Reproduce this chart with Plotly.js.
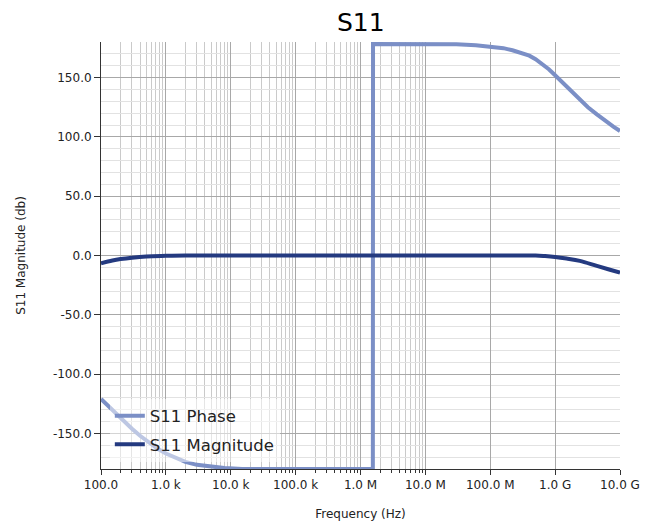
<!DOCTYPE html>
<html>
<head>
<meta charset="utf-8">
<script src="https://cdn.plot.ly/plotly-3.0.1.min.js"></script>
<style>html,body{margin:0;padding:0;background:#fff;}#chart{width:656px;height:524px;}</style>
</head>
<body>
<div id="chart"></div>
<script>
// ---- data ----
const phaseFreq = [100, 130, 170, 230, 300, 400, 550, 750, 1000, 1500, 2000, 3000, 5000, 8000, 15000, 100000, 1000000, 1550000,
  1560000, 10000000, 30000000, 60000000, 100000000, 160000000, 220000000, 300000000, 400000000, 500000000, 600000000, 800000000,
  1000000000, 1300000000, 1700000000, 2400000000, 3200000000, 4400000000, 6000000000, 8000000000, 10000000000];
const phaseVal = [-121, -127, -134, -141, -146, -152, -158, -163, -167, -171.5, -174, -176.5, -178.3, -179.2, -180, -180, -180, -180,
  178.3, 178.3, 178, 177.3, 176.3, 174.8, 173, 171, 168.5, 165.5, 162.5, 157,
  152, 146, 139.5, 131, 125, 119, 113, 108.5, 105];

const magFreq = [100, 150, 200, 300, 500, 1000, 2000, 10000, 1000000, 100000000, 500000000, 700000000,
  1000000000, 1500000000, 2400000000, 4400000000, 7000000000, 10000000000];
const magVal = [-6.5, -4.2, -3, -1.8, -0.8, -0.3, 0, 0, 0, 0, 0, -0.5,
  -1.3, -2.6, -4.5, -8.8, -12, -14.5];

const xTickVals = [1e2, 1e3, 1e4, 1e5, 1e6, 1e7, 1e8, 1e9, 1e10];
const xTickText = ["100.0", "1.0 k", "10.0 k", "100.0 k", "1.0 M", "10.0 M", "100.0 M", "1.0 G", "10.0 G"];
const yTickVals = [-150, -100, -50, 0, 50, 100, 150];
const yTickText = ["-150.0", "-100.0", "-50.0", "0.0", "50.0", "100.0", "150.0"];

// minor x grid only spans 100 Hz .. 10 MHz in the reference
const xMinorVals = [];
for (let e = 2; e <= 6; e++) {
  for (let d = 2; d <= 9; d++) xMinorVals.push(d * Math.pow(10, e));
}
const yMinorVals = [];
for (let v = -170; v <= 170; v += 10) if (v % 50 !== 0) yMinorVals.push(v);

const FONT = "DejaVu Sans, sans-serif";

const traces = [
  {x: phaseFreq, y: phaseVal, name: "S11 Phase", type: "scatter", mode: "lines", legendgroup: "p",
   line: {color: "#7b8fc6", width: 4}},
  {x: magFreq, y: magVal, name: "S11 Magnitude", type: "scatter", mode: "lines", legendgroup: "m",
   line: {color: "#243a80", width: 4, shape: "spline"}}
];

const layout = {
  width: 656, height: 524,
  margin: {l: 101, r: 36, t: 42, b: 55},
  paper_bgcolor: "#fff", plot_bgcolor: "#fff",
  font: {family: FONT, size: 12, color: "#222"},
  title: {text: "S11", font: {family: FONT, size: 25, color: "#000"}, x: 0.55, xanchor: "center", y: 0.958, yanchor: "middle"},
  showlegend: true,
  legend: {x: 0.017, y: 0.165, xanchor: "left", yanchor: "top", bgcolor: "rgba(255,255,255,0.5)",
           traceorder: "grouped", tracegroupgap: 4,
           font: {family: FONT, size: 16.5, color: "#222"}, borderwidth: 0},
  xaxis: {
    type: "log", range: [2, 10],
    tickmode: "array", tickvals: xTickVals, ticktext: xTickText,
    ticks: "outside", ticklen: 5, tickcolor: "#333",
    showline: true, linecolor: "#333", linewidth: 1, mirror: false,
    showgrid: true, gridcolor: "#a8a8a8", gridwidth: 1, zeroline: false,
    tickfont: {family: FONT, size: 12, color: "#222"},
    minor: {tickmode: "array", tickvals: xMinorVals, ticks: "outside", ticklen: 3, tickcolor: "#333",
            showgrid: true, gridcolor: "#cacaca", gridwidth: 1},
    title: {text: "Frequency (Hz)", font: {family: FONT, size: 12, color: "#222"}, standoff: 18}
  },
  yaxis: {
    range: [-180, 180],
    tickmode: "array", tickvals: yTickVals, ticktext: yTickText,
    ticks: "outside", ticklen: 6, tickcolor: "#333",
    showline: true, linecolor: "#333", linewidth: 1,
    showgrid: true, gridcolor: "#a8a8a8", gridwidth: 1, zeroline: false,
    tickfont: {family: FONT, size: 12, color: "#222"},
    minor: {tickmode: "array", tickvals: yMinorVals, ticks: "", showgrid: true, gridcolor: "#e2e2e2", gridwidth: 1},
    title: {text: "S11 Magnitude (db)", font: {family: FONT, size: 12, color: "#222"}, standoff: 24}
  }
};

Plotly.newPlot("chart", traces, layout, {displayModeBar: false, responsive: false});
</script>
</body>
</html>
